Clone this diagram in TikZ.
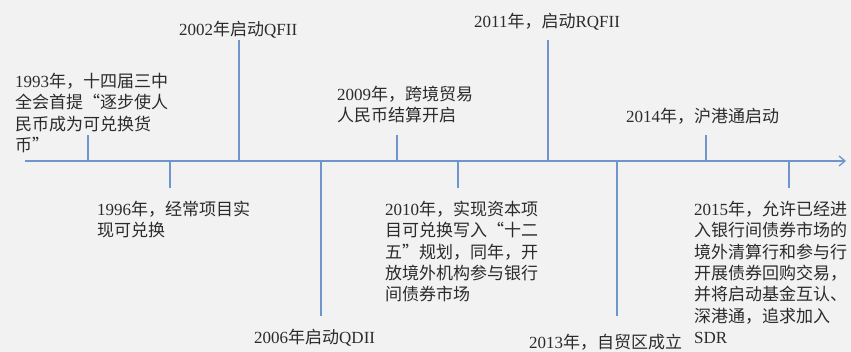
\documentclass[tikz,border=0pt]{standalone}
\usepackage{fontspec}
\setmainfont{Liberation Serif}
\newfontfamily\cjk{Noto Sans CJK SC}
\usetikzlibrary{arrows.meta}
\definecolor{bg}{HTML}{F2F2F2}
\definecolor{ln}{HTML}{6E96CD}
\definecolor{tx}{HTML}{2B2B2B}
\newcommand\topstrut{\rule{0pt}{16pt}}
\begin{document}
\begin{tikzpicture}[x=1pt,y=-1pt,
  tickline/.style={draw=ln,line width=1.5pt},
  axisline/.style={draw=ln,line width=1.5pt,-{Straight Barb[length=6pt,width=10pt,line width=1.3pt]}},
  lbl/.style={anchor=north west,inner sep=0pt,align=left,text=tx,font=\fontsize{17}{21.3}\selectfont}]
\fill[bg] (0,0) rectangle (851,352);
\useasboundingbox (0,0) rectangle (851,352);
% axis
\coordinate (axstart) at (25,161);
\coordinate (axend) at (846,161);
\draw[axisline] (axstart) -- (axend);
% tick coordinates
\coordinate (a1993) at (88,161);  \coordinate (e1993) at (88,135);
\coordinate (a1996) at (170,161); \coordinate (e1996) at (170,188);
\coordinate (a2002) at (239,161); \coordinate (e2002) at (239,40);
\coordinate (a2006) at (321,161); \coordinate (e2006) at (321,316);
\coordinate (a2009) at (397,161); \coordinate (e2009) at (397,135);
\coordinate (a2010) at (458,161); \coordinate (e2010) at (458,188);
\coordinate (a2011) at (548,161); \coordinate (e2011) at (548,40);
\coordinate (a2013) at (617,161); \coordinate (e2013) at (617,316);
\coordinate (a2014) at (706,161); \coordinate (e2014) at (706,135);
\coordinate (a2015) at (789,161); \coordinate (e2015) at (789,188);
\foreach \y in {1993,1996,2002,2006,2009,2010,2011,2013,2014,2015}
  \draw[tickline] (a\y) -- (e\y);
% labels
\node[lbl] (l1993) at (15,71.5) {\topstrut 1993{\cjk 年，十四届三中}\\{\cjk 全会首提“逐步使人}\\{\cjk 民币成为可兑换货}\\{\cjk 币”}};
\node[lbl] (l1996) at (97,199.5) {\topstrut 1996{\cjk 年，经常项目实}\\{\cjk 现可兑换}};
\node[lbl] (l2002) at (179,19.5) {\topstrut 2002{\cjk 年启动}QFII};
\node[lbl] (l2006) at (254,327.5) {\topstrut 2006{\cjk 年启动}QDII};
\node[lbl] (l2009) at (337,84.5) {\topstrut 2009{\cjk 年，跨境贸易}\\{\cjk 人民币结算开启}};
\node[lbl] (l2010) at (385,199.5) {\topstrut 2010{\cjk 年，实现资本项}\\{\cjk 目可兑换写入“十二}\\{\cjk 五”规划，同年，开}\\{\cjk 放境外机构参与银行}\\{\cjk 间债券市场}};
\node[lbl] (l2011) at (474,11.5) {\topstrut 2011{\cjk 年，启动}RQFII};
\node[lbl] (l2013) at (529,332.5) {\topstrut 2013{\cjk 年，自贸区成立}};
\node[lbl] (l2014) at (626,106.5) {\topstrut 2014{\cjk 年，沪港通启动}};
\node[lbl] (l2015) at (694,199.5) {\topstrut 2015{\cjk 年，允许已经进}\\{\cjk 入银行间债券市场的}\\{\cjk 境外清算行和参与行}\\{\cjk 开展债券回购交易，}\\{\cjk 并将启动基金互认、}\\{\cjk 深港通，追求加入}\\SDR};
\end{tikzpicture}
\end{document}
